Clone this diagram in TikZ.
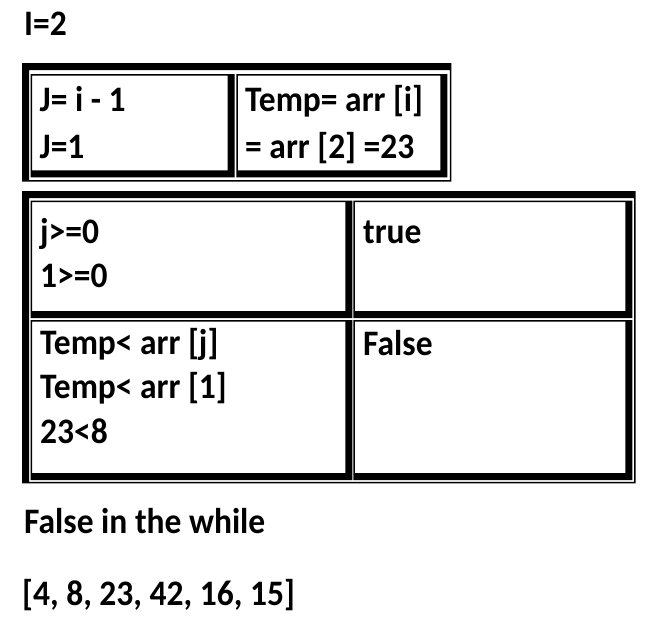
\documentclass[tikz,border=0pt]{standalone}
\usepackage{fontspec}
\setmainfont{Carlito}

\newcommand{\tableframe}[4]{\fill[even odd rule] (#1,#2) rectangle (#3,#4) (#1+7,#2+7) rectangle (#3-1.5,#4-1.5);}
\newcommand{\cellframe}[4]{\fill[even odd rule] (#1,#2) rectangle (#3,#4) (#1+1.5,#2+1.5) rectangle (#3-7,#4-7);}

\tikzset{
	celltext/.style={anchor=base west, inner sep=0pt, align=left, yscale=1.07, font=\bfseries\fontsize{33.5}{41.2}\selectfont},
	toptext/.style={celltext, font=\bfseries\fontsize{33.5}{43.6}\selectfont}
}

\begin{document}
\begin{tikzpicture}[x=1pt, y=-1pt]
	\useasboundingbox (0,0) rectangle (668,618);
	
	\node[celltext] (istep) at (24,36) {I=2};
	
	\tableframe{22}{63}{451.3}{181.7}
	\cellframe{30.7}{74}{234.7}{177.3}
	\cellframe{236.3}{74}{447.3}{177.3}
	\node[toptext] (jcalc) at (39.5,158.3) {J= i - 1\\J=1};
	\node[toptext] (tempcalc) at (245,158.3) {Temp= arr [i]\\= arr [2] =23};
	
	\tableframe{22}{191}{635.7}{483.3}
	\cellframe{30.7}{200.7}{352.3}{318}
	\cellframe{353.3}{200.7}{632.3}{318}
	\cellframe{30.7}{320}{352.3}{480}
	\cellframe{353.3}{320}{632.3}{480}
	\node[celltext] (jcond) at (40,287.3) {j>=0\\1>=0};
	\node[celltext] (jres) at (363,243.3) {true};
	\node[celltext] (tcond) at (40,443) {Temp< arr [j]\\Temp< arr [1]\\23<8};
	\node[celltext] (tres) at (363,355) {False};
	
	\node[celltext] (whilenote) at (24,533) {False in the while};
	\node[celltext] (arrnow) at (22,605) {[4, 8, 23, 42, 16, 15]};
\end{tikzpicture}
\end{document}
